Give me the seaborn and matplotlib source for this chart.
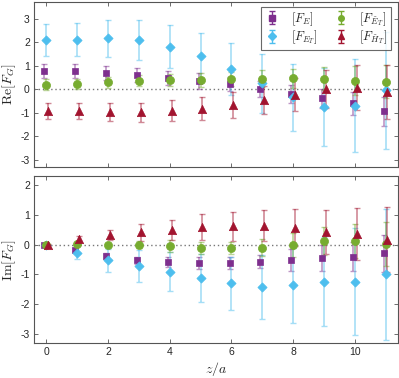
import numpy as np
import pandas as pd
import matplotlib
matplotlib.use("Agg")
import matplotlib.pyplot as plt
import seaborn as sns

z = np.arange(12)

# Re[F_G]
re_FE = [0.77, 0.76, 0.70, 0.60, 0.49, 0.36, 0.22, 0.01, -0.19, -0.39, -0.60, -0.94]
re_FE_err = [0.30, 0.30, 0.30, 0.30, 0.30, 0.33, 0.31, 0.34, 0.38, 0.40, 0.50, 0.60]
re_FET = [2.09, 2.11, 2.16, 2.09, 1.81, 1.40, 0.87, 0.25, -0.33, -0.76, -0.70, -0.05]
re_FET_err = [0.67, 0.70, 0.77, 0.83, 0.92, 1.00, 1.10, 1.25, 1.42, 1.65, 1.98, 2.50]
re_FtET = [0.20, 0.23, 0.30, 0.36, 0.39, 0.40, 0.43, 0.45, 0.46, 0.45, 0.37, 0.33]
re_FtET_err = [0.22, 0.20, 0.24, 0.23, 0.27, 0.30, 0.30, 0.37, 0.40, 0.48, 0.62, 0.70]
re_FtHT = [-0.93, -0.93, -0.97, -0.97, -0.91, -0.82, -0.65, -0.45, -0.23, 0.01, 0.06, -0.11]
re_FtHT_err = [0.33, 0.35, 0.37, 0.40, 0.45, 0.48, 0.55, 0.60, 0.70, 0.82, 0.95, 1.13]

# Im[F_G]
im_FE = [0.0, -0.18, -0.37, -0.53, -0.59, -0.62, -0.62, -0.58, -0.52, -0.45, -0.40, -0.29]
im_FE_err = [0.03, 0.05, 0.10, 0.12, 0.17, 0.20, 0.20, 0.22, 0.38, 0.42, 0.50, 0.62]
im_FET = [0.0, -0.27, -0.53, -0.72, -0.91, -1.13, -1.30, -1.41, -1.37, -1.24, -1.24, -1.00]
im_FET_err = [0.03, 0.23, 0.38, 0.55, 0.66, 0.80, 0.90, 1.07, 1.26, 1.50, 1.80, 2.20]
im_FtET = [0.0, 0.01, -0.01, -0.01, -0.06, -0.11, -0.13, -0.10, 0.0, 0.12, 0.12, 0.02]
im_FtET_err = [0.03, 0.05, 0.06, 0.12, 0.20, 0.20, 0.20, 0.28, 0.40, 0.48, 0.58, 0.73]
im_FtHT = [0.0, 0.18, 0.32, 0.41, 0.50, 0.58, 0.61, 0.64, 0.56, 0.42, 0.36, 0.17]
im_FtHT_err = [0.03, 0.10, 0.18, 0.28, 0.33, 0.43, 0.48, 0.52, 0.62, 0.75, 0.88, 1.08]

labels = [r'$[F_E]$', r'$[F_{E_T}]$', r'$[F_{\tilde{E}_T}]$', r'$[F_{\tilde{H}_T}]$']
colors = ['#7E2F8E', '#4DBEEE', '#77AC30', '#A2142F']
markers = ['s', 'D', 'o', '^']
msizes = [20, 22, 34, 36]
offsets = [-0.06, 0.0, 0.0, 0.06]

re_vals = [re_FE, re_FET, re_FtET, re_FtHT]
re_errs = [re_FE_err, re_FET_err, re_FtET_err, re_FtHT_err]
im_vals = [im_FE, im_FET, im_FtET, im_FtHT]
im_errs = [im_FE_err, im_FET_err, im_FtET_err, im_FtHT_err]

sns.set_theme(style="ticks")
plt.rcParams['mathtext.fontset'] = 'cm'
plt.rcParams['axes.unicode_minus'] = False
plt.rcParams['font.family'] = ['Liberation Sans', 'DejaVu Sans']

fig = plt.figure(figsize=(3.99, 3.78), dpi=100)
ax1 = fig.add_axes([0.0852, 0.558, 0.912, 0.4365])
ax2 = fig.add_axes([0.0852, 0.0926, 0.912, 0.4418])

frame_col = '#555555'

def draw(ax, vals, errs):
    for i in range(4):
        x = z + offsets[i]
        ax.errorbar(x, vals[i], yerr=errs[i], fmt='none', ecolor=colors[i],
                    alpha=0.5, elinewidth=1.2, capsize=2, capthick=1.0, zorder=2)
        df = pd.DataFrame({'z': x, 'v': vals[i]})
        sns.scatterplot(data=df, x='z', y='v', ax=ax, marker=markers[i],
                        color=colors[i], s=msizes[i], edgecolor=colors[i],
                        linewidth=0.5, zorder=3, legend=False)
    ax.axhline(0, color='#777777', linestyle=(0, (1, 2)), linewidth=1.0, zorder=1)
    ax.set_xlim(-0.4, 11.4)
    ax.set_xticks([0, 2, 4, 6, 8, 10])
    ax.tick_params(direction='in', top=True, right=True, length=3, width=0.6,
                   color=frame_col, labelsize=7.5, pad=3)
    for sp in ax.spines.values():
        sp.set_color(frame_col)
        sp.set_linewidth(0.8)
    ax.set_xlabel('')
    ax.set_ylabel('')

draw(ax1, re_vals, re_errs)
draw(ax2, im_vals, im_errs)

ax1.set_ylim(-3.3, 3.7)
ax1.set_yticks([-3, -2, -1, 0, 1, 2, 3])
ax1.set_xticklabels([])
ax2.set_ylim(-3.3, 2.3)
ax2.set_yticks([-3, -2, -1, 0, 1, 2])

ax1.set_ylabel(r'$\mathrm{Re}[F_G]$', fontsize=10)
ax2.set_ylabel(r'$\mathrm{Im}[F_G]$', fontsize=10)
ax1.yaxis.set_label_coords(-0.045, 0.5)
ax2.yaxis.set_label_coords(-0.045, 0.5)
ax2.set_xlabel(r'$z/a$', fontsize=10, labelpad=2)

handles = []
for i in range(4):
    h = ax1.errorbar([np.nan], [np.nan], yerr=[0.5], fmt=markers[i], color=colors[i],
                     ecolor=colors[i], markersize=4, elinewidth=1.0, capsize=2,
                     label=labels[i])
    handles.append(h)
leg = ax1.legend(handles=handles, labels=labels, ncol=2, loc='upper right',
                 bbox_to_anchor=(0.98, 0.97), borderaxespad=0, fontsize=9,
                 frameon=True, fancybox=False,
                 edgecolor='#444444', handlelength=1.4, columnspacing=1.1,
                 handletextpad=0.8, borderpad=0.25, labelspacing=0.1)
leg.get_frame().set_linewidth(0.8)

fig.savefig('out.png', dpi=100)
